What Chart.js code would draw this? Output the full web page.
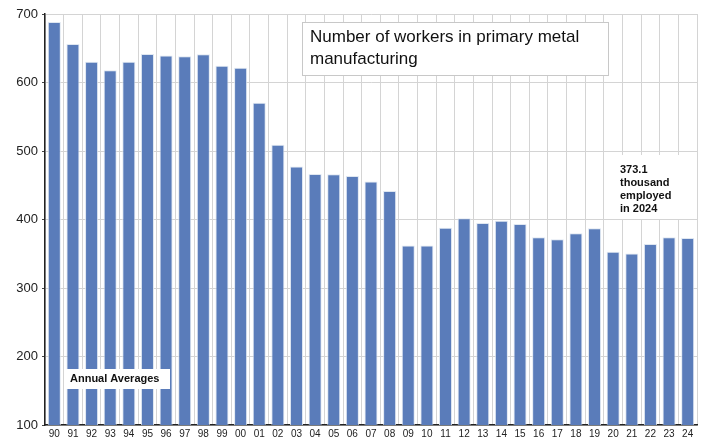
<!DOCTYPE html>
<html>
<head>
<meta charset="utf-8">
<script src="https://cdn.jsdelivr.net/npm/chart.js@4.4.1/dist/chart.umd.min.js"></script>
<style>
  html, body { margin: 0; padding: 0; background: #fff; }
  #wrap { width: 705px; height: 439px; }
</style>
</head>
<body>
<div id="wrap"><canvas id="metal-chart" width="705" height="439"></canvas></div>
<script>
// years shown as two-digit labels
var years = ['90', '91', '92', '93', '94', '95', '96', '97', '98', '99',
    '00', '01', '02', '03', '04', '05', '06', '07', '08', '09',
    '10', '11', '12', '13', '14', '15', '16', '17', '18', '19',
    '20', '21', '22', '23', '24'];

// thousands of workers, annual averages
var workers = [688.5, 656.2, 630.4, 618.0, 630.4, 641.7, 639.3, 638.3, 641.2, 624.6,
    621.5, 570.6, 509.3, 477.2, 466.4, 466.2, 463.5, 455.3, 441.6, 362.0,
    362.0, 387.8, 401.7, 394.9, 398.2, 393.5, 374.1, 371.2, 380.0, 387.3,
    353.1, 350.2, 364.3, 374.1, 373.1];

var yTicks = [100, 200, 300, 400, 500, 600, 700];

var titleLines = ['Number of workers in primary metal', 'manufacturing'];
var noteLines = ['373.1', 'thousand', 'employed', 'in 2024'];
var avgLabel = 'Annual Averages';

var boxes = {
    id: 'boxes',
    afterDatasetsDraw: function (chart) {
        var ctx = chart.ctx;
        ctx.save();

        // title box
        ctx.fillStyle = '#fff';
        ctx.fillRect(302.5, 22.5, 306, 53);
        ctx.strokeStyle = '#c8c8c8';
        ctx.lineWidth = 1;
        ctx.strokeRect(302.5, 22.5, 306, 53);
        ctx.fillStyle = '#111';
        ctx.font = '17px "Liberation Sans", Arial, sans-serif';
        ctx.textBaseline = 'middle';
        ctx.textAlign = 'left';
        ctx.fillText(titleLines[0], 310, 37);
        ctx.fillText(titleLines[1], 310, 59);

        // annual averages label
        ctx.fillStyle = '#fff';
        ctx.fillRect(66, 369, 104, 20);
        ctx.fillStyle = '#111';
        ctx.font = 'bold 11px "Liberation Sans", Arial, sans-serif';
        ctx.fillText(avgLabel, 70, 379);

        // 2024 note
        ctx.fillStyle = '#fff';
        ctx.fillRect(617, 155, 70, 64);
        ctx.fillStyle = '#111';
        ctx.font = 'bold 11px "Liberation Sans", Arial, sans-serif';
        for (var i = 0; i < noteLines.length; i++) {
            ctx.fillText(noteLines[i], 620, 170 + i * 13);
        }
        ctx.restore();
    }
};

var ctx1 = document.getElementById('metal-chart');

var barGraph = new Chart(ctx1, {
    type: 'bar',
    data: {
        labels: years,
        datasets: [{
            label: 'Workers',
            data: workers,
            backgroundColor: '#5a7cba',
            borderColor: 'rgba(220, 228, 240, 0.9)',
            borderWidth: 1,
            borderSkipped: 'bottom',
            barPercentage: 0.7,
            categoryPercentage: 1.0
        }]
    },
    options: {
        responsive: false,
        animation: false,
        devicePixelRatio: 1,
        layout: { padding: { left: 0, top: 14, right: 8, bottom: 0 } },
        plugins: {
            legend: { display: false },
            tooltip: { enabled: false }
        },
        scales: {
            x: {
                offset: true,
                grid: {
                    offset: true,
                    color: '#d4d4d4',
                    drawTicks: false
                },
                border: { color: '#222', width: 1.5 },
                ticks: {
                    color: '#222',
                    font: { family: '"Liberation Sans", Arial, sans-serif', size: 10 },
                    padding: 3,
                    maxRotation: 0,
                    autoSkip: false
                },
                afterFit: function (scale) { scale.height = 14; }
            },
            y: {
                min: 100,
                max: 700,
                afterBuildTicks: function (scale) {
                    scale.ticks = yTicks.map(function (v) { return { value: v }; });
                },
                grid: {
                    color: '#d4d4d4',
                    tickLength: 3,
                    tickColor: '#444'
                },
                border: { color: '#222', width: 1.5 },
                ticks: {
                    color: '#222',
                    font: { family: '"Liberation Sans", Arial, sans-serif', size: 13 },
                    padding: 4
                },
                afterFit: function (scale) { scale.width = 45; }
            }
        }
    },
    plugins: [boxes]
});
</script>
</body>
</html>
